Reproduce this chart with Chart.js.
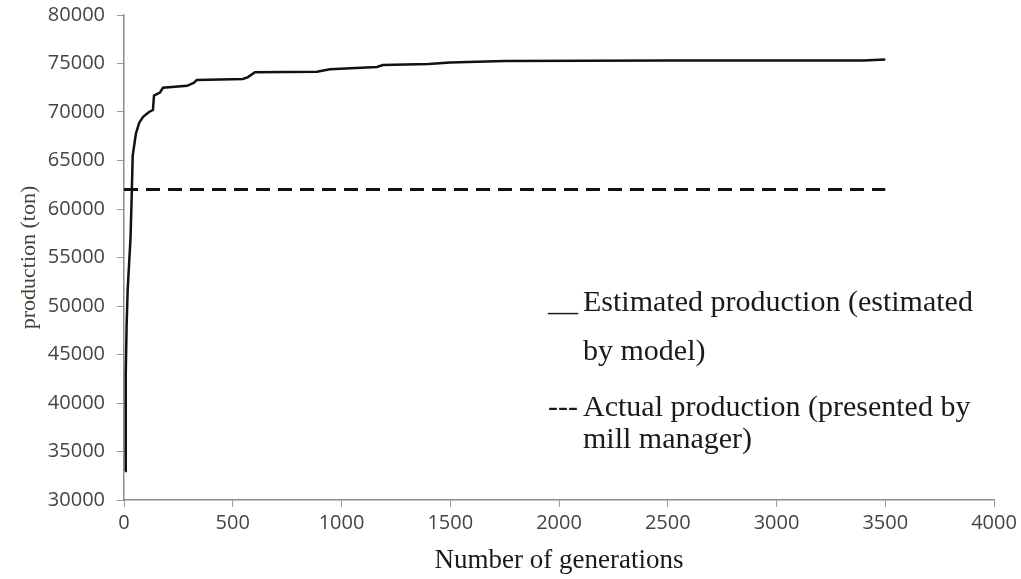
<!DOCTYPE html>
<html>
<head>
<meta charset="utf-8">
<title>Production vs generations</title>
<script src="https://cdn.jsdelivr.net/npm/chart.js@4/dist/chart.umd.min.js"></script>
<style>
  html, body { margin: 0; padding: 0; background: #fff; }
  #wrap { width: 1021px; height: 579px; position: relative; }
</style>
</head>
<body>
<div id="wrap"><canvas id="chart"></canvas></div>
<script>
// Estimated production (model)
const generations = [5, 8, 12, 17, 25, 30, 35, 40, 55, 70, 88, 115, 133, 138, 165, 179, 290, 320, 335, 547, 570, 602, 887, 947, 1163, 1190, 1400, 1500, 1750, 2500, 3400, 3500];
const estimated = [33000, 43000, 48000, 51700, 55000, 57000, 61000, 65500, 67800, 68900, 69500, 70000, 70200, 71700, 72000, 72500, 72700, 73000, 73300, 73400, 73600, 74100, 74150, 74400, 74650, 74850, 74950, 75100, 75250, 75300, 75300, 75400];

// Actual production (mill manager)
const actualGenerations = [0, 3500];
const actual = [62000, 62000];

// axis ticks
const xTicks = [0, 500, 1000, 1500, 2000, 2500, 3000, 3500, 4000];
const yTicks = [30000, 35000, 40000, 45000, 50000, 55000, 60000, 65000, 70000, 75000, 80000];

// legend text lines (drawn inside the plot, as in the figure)
const legendLines = [
    { marker: '__', text: 'Estimated production (estimated' },
    { marker: '', text: 'by model)' },
    { marker: '---', text: 'Actual production (presented by' },
    { marker: '', text: 'mill manager)' }
];

function toPoints(xs, ys) {
    return xs.map((x, i) => ({ x: x, y: ys[i] }));
}

const textLegend = {
    id: 'textLegend',
    afterDraw(chart) {
        const ctx = chart.ctx;
        const rows = [303, 352, 408, 440];
        ctx.save();
        ctx.fillStyle = '#1a1a1a';
        ctx.font = '30px "Liberation Serif", "Times New Roman", serif';
        ctx.textBaseline = 'middle';
        legendLines.forEach((l, i) => {
            if (l.marker) {
                ctx.textAlign = 'right';
                ctx.fillText(l.marker, 578, rows[i]);
            }
            ctx.textAlign = 'left';
            ctx.fillText(l.text, 583, rows[i]);
        });
        ctx.restore();
    }
};

const ctx = document.getElementById('chart').getContext('2d');
new Chart(ctx, {
    type: 'line',
    data: {
        datasets: [{
            label: 'Estimated production (estimated by model)',
            data: toPoints(generations, estimated),
            borderColor: '#111',
            borderWidth: 2.5,
            pointRadius: 0,
            tension: 0,
            fill: false
        }, {
            label: 'Actual production (presented by mill manager)',
            data: toPoints(actualGenerations, actual),
            borderColor: '#111',
            borderWidth: 3,
            borderDash: [14, 8],
            pointRadius: 0,
            fill: false
        }]
    },
    options: {
        responsive: true,
        maintainAspectRatio: false,
        animation: false,
        layout: { padding: { top: 15, right: 27, left: 0, bottom: 0 } },
        plugins: {
            legend: { display: false },
            tooltip: { enabled: false }
        },
        scales: {
            x: {
                type: 'linear',
                min: 0,
                max: 4000,
                afterBuildTicks: s => { s.ticks = xTicks.map(v => ({ value: v })); },
                afterFit: s => { s.height = 79; s.paddingLeft = 0; s.paddingRight = 0; },
                grid: { drawOnChartArea: false, color: '#999', tickLength: 7 },
                border: { color: '#8c8c8c', width: 1.5 },
                ticks: {
                    color: '#444',
                    font: { family: '"Open Sans", sans-serif', size: 20 },
                    padding: 4,
                    maxRotation: 0,
                    callback: v => String(v)
                },
                title: {
                    display: true,
                    text: 'Number of generations',
                    color: '#1a1a1a',
                    font: { family: '"Liberation Serif", "Times New Roman", serif', size: 27 },
                    padding: { top: 0, bottom: 2 }
                }
            },
            y: {
                min: 30000,
                max: 80000,
                afterBuildTicks: s => { s.ticks = yTicks.map(v => ({ value: v })); },
                afterFit: s => { s.width = 124; s.paddingTop = 0; s.paddingBottom = 0; },
                grid: { drawOnChartArea: false, color: '#999', tickLength: 7 },
                border: { color: '#8c8c8c', width: 1.5 },
                ticks: {
                    color: '#444',
                    font: { family: '"Open Sans", sans-serif', size: 20 },
                    padding: 12,
                    callback: v => String(v)
                },
                title: {
                    display: true,
                    text: 'production (ton)',
                    color: '#4a4036',
                    font: { family: '"Liberation Serif", "Times New Roman", serif', size: 22 },
                    padding: { top: 16, bottom: 0 }
                }
            }
        }
    },
    plugins: [textLegend]
});
</script>
</body>
</html>
